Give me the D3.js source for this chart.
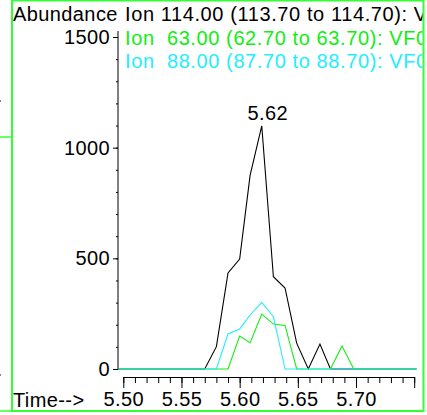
<!DOCTYPE html>
<html>
<head>
<meta charset="utf-8">
<script src="https://cdn.jsdelivr.net/npm/d3@7/dist/d3.min.js"></script>
<style>
  html, body { margin: 0; padding: 0; background: #fff; }
  svg { display: block; }
  text { font-family: "Liberation Sans", Arial, sans-serif; letter-spacing: 0.4px; }
  text.legend { letter-spacing: 0.6px; }
</style>
</head>
<body>
<div id="chart"></div>
<script>
// ---- data ----
const times  = [5.496, 5.570, 5.580, 5.590, 5.600, 5.609, 5.619, 5.629, 5.639, 5.649, 5.659, 5.669, 5.678, 5.688, 5.698, 5.752];
const ion114 = [0, 0, 101, 434, 497, 876, 1098, 417, 366, 117, 0, 113, 0, 0, 0, 0];
const ion63  = [0, 0, 0, 0, 149, 119, 248, 203, 197, 0, 0, 0, 0, 104, 0, 0];
const ion88  = [0, 0, 0, 158, 181, 244, 301, 236, 0, 0, 0, 0, 0, 0, 0, 0];
const seriesNames  = ["Ion 114.00 (113.70 to 114.70): V", "Ion  63.00 (62.70 to 63.70): VF0", "Ion  88.00 (87.70 to 88.70): VF0"];
const seriesColors = ["#000000", "#11ee11", "#22eeff"];
const yMajorTicks = [0, 500, 1000, 1500];
const yMinorTicks = [0, 100, 200, 300, 400, 500, 600, 700, 800, 900, 1000, 1100, 1200, 1300, 1400, 1500];
const xLabelTicks = [5.50, 5.55, 5.60, 5.65, 5.70];
const xMajorTicks = [5.50, 5.55, 5.60, 5.65, 5.70, 5.75];
const xMinorTicks = [5.50, 5.51, 5.52, 5.53, 5.54, 5.55, 5.56, 5.57, 5.58, 5.59, 5.60, 5.61, 5.62, 5.63, 5.64, 5.65, 5.66, 5.67, 5.68, 5.69, 5.70, 5.71, 5.72, 5.73, 5.74, 5.75];
const peakLabel = { time: 5.619, value: 1098, text: "5.62" };

const W = 427, H = 415;
const svg = d3.select("#chart").append("svg").attr("width", W).attr("height", H);

const x = d3.scaleLinear().domain([5.50, 5.75]).range([123.3, 414.2]);
const y = d3.scaleLinear().domain([0, 1500]).range([369, 37]);

const frameColor = "#33ff33";
// neighbouring-panel fragments on the far left
svg.append("line").attr("x1", 0).attr("x2", 12).attr("y1", 137).attr("y2", 137).attr("stroke", frameColor).attr("stroke-width", 1.5);
svg.append("rect").attr("x", 0).attr("y", 100).attr("width", 1).attr("height", 2).attr("fill", "#888");
svg.append("rect").attr("x", 0).attr("y", 374).attr("width", 1).attr("height", 2).attr("fill", "#888");
svg.append("line").attr("x1", 0).attr("x2", 12).attr("y1", 411).attr("y2", 411).attr("stroke", frameColor).attr("stroke-width", 1.5);

// frame
svg.append("rect").attr("x", 12).attr("y", 0.5).attr("width", 411.5).attr("height", 410.5)
  .attr("fill", "none").attr("stroke", frameColor).attr("stroke-width", 2);

const clip = svg.append("defs").append("clipPath").attr("id", "frameclip");
clip.append("rect").attr("x", 13).attr("y", 1).attr("width", 409.5).attr("height", 409);

const g = svg.append("g").attr("clip-path", "url(#frameclip)");

// Y axis
const yMinor = d3.axisLeft(y).tickValues(yMinorTicks).tickSize(2).tickFormat("");
const yMajor = d3.axisLeft(y).tickValues(yMajorTicks).tickSize(5).tickPadding(3).tickFormat(d3.format("d"));
const gy1 = g.append("g").attr("transform", "translate(118,0)").call(yMinor);
gy1.select(".domain").remove();
const gy2 = g.append("g").attr("transform", "translate(118,0)").call(yMajor);
gy2.select(".domain").remove();
gy2.selectAll("text").attr("font-size", 20).attr("font-family", "Liberation Sans, Arial, sans-serif").attr("fill", "#000");
g.append("line").attr("x1", 118).attr("x2", 118).attr("y1", 31).attr("y2", 370).attr("stroke", "#000").attr("stroke-width", 1);

// X axis
const axY = 377;
const xMinor = d3.axisBottom(x).tickValues(xMinorTicks).tickSize(6).tickFormat("");
const xMaj = d3.axisBottom(x).tickValues(xMajorTicks).tickSize(11).tickFormat("");
const xLab = d3.axisBottom(x).tickValues(xLabelTicks).tickSize(0).tickPadding(15).tickFormat(d3.format(".2f"));
const gx1 = g.append("g").attr("transform", `translate(0,${axY})`).call(xMinor);
gx1.select(".domain").remove();
const gx2 = g.append("g").attr("transform", `translate(0,${axY})`).call(xMaj);
gx2.select(".domain").remove();
const gx3 = g.append("g").attr("transform", `translate(0,${axY})`).call(xLab);
gx3.select(".domain").remove();
gx3.selectAll("text").attr("font-size", 20).attr("font-family", "Liberation Sans, Arial, sans-serif").attr("fill", "#000");
g.append("line").attr("x1", x(5.50)).attr("x2", x(5.75)).attr("y1", axY + 0.5).attr("y2", axY + 0.5).attr("stroke", "#000").attr("stroke-width", 1);

// axis titles
g.append("text").attr("x", 13).attr("y", 21).attr("font-size", 20).text("Abundance");
g.append("text").attr("x", 13).attr("y", 407).attr("font-size", 20).text("Time-->");

// series
const seriesData = [ion114, ion63, ion88];
const line = d3.line().x((d, i) => x(times[i])).y(d => y(d));
seriesData.forEach((vals, k) => {
  g.append("path").datum(vals).attr("d", line)
    .attr("fill", "none").attr("stroke", seriesColors[k]).attr("stroke-width", 1.1)
    .attr("stroke-linejoin", "miter");
});

// peak label
g.append("text").attr("x", x(peakLabel.time) + 6).attr("y", y(peakLabel.value) - 6)
  .attr("text-anchor", "middle").attr("font-size", 20).text(peakLabel.text);

// legend
seriesNames.forEach((name, k) => {
  g.append("text").attr("class", "legend").attr("x", 125).attr("y", 21 + 23.5 * k).attr("font-size", 20)
    .attr("fill", seriesColors[k]).style("white-space", "pre").attr("xml:space", "preserve").text(name);
});
</script>
</body>
</html>
